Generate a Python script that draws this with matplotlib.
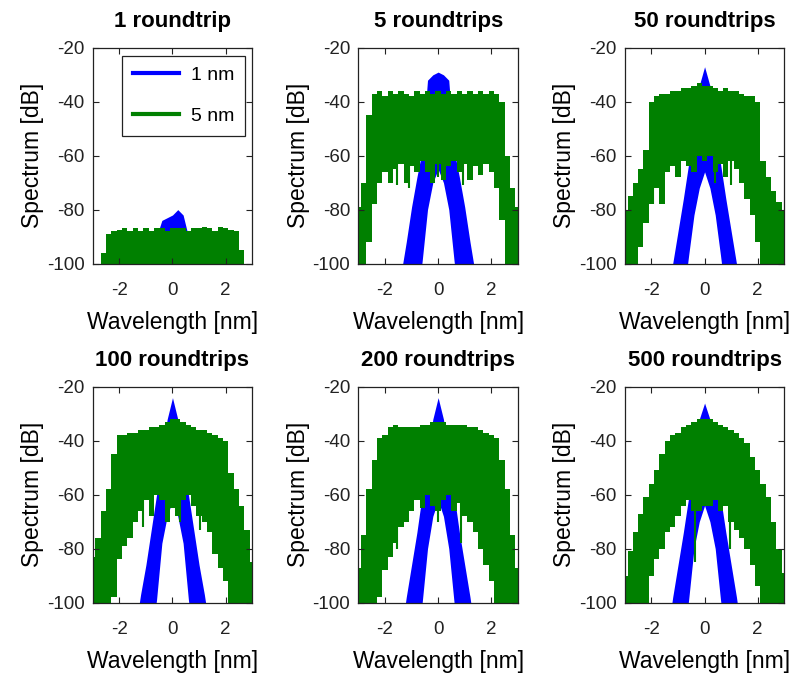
import numpy as np
import matplotlib
matplotlib.use('Agg')
import matplotlib.pyplot as plt
from matplotlib.lines import Line2D

plt.rcParams['font.family'] = ['Liberation Sans', 'DejaVu Sans']
plt.rcParams['axes.unicode_minus'] = False

titles = ['1 roundtrip', '5 roundtrips', '50 roundtrips',
          '100 roundtrips', '200 roundtrips', '500 roundtrips']
series = ['1 nm', '5 nm']

#wavelength grids [nm]
wl_green = np.round(np.arange(-3.0, 3.01, 0.2), 1)
wl_blue = np.round(np.arange(-1.6, 1.61, 0.2), 1)

#5 nm filter: upper / lower envelope of the spectrum [dB]
g_hi_1 = [-110,-110,-96,-89,-88,-87.5,-87,-88,-87,-88,-87,-88,-87,-87,-88,-87,
          -87,-87,-88,-87,-87,-86.5,-87,-88,-86.5,-87,-87.5,-88,-95,-110,-110]
g_lo_1 = [-110]*31
g_hi_2 = [-79,-70,-45,-37,-36,-38,-36,-37,-36,-37,-38,-36,-37,-36,-37,-36,
          -37,-36,-37,-36,-37,-36,-37,-36,-37,-36,-37,-40,-60,-72,-79]
g_lo_2 = [-110,-110,-92,-78,-70,-66,-70,-65,-63,-70,-64,-66,-62,-66,-70,-63,
          -69,-64,-62,-66,-63,-69,-64,-67,-63,-66,-72,-84,-110,-110,-110]
g_hi_3 = [-80,-75,-70,-65,-58,-40,-38,-37,-37,-36,-36,-35,-35,-34,-33,-34,
          -34,-35,-36,-35,-36,-36,-37,-38,-38,-40,-62,-68,-73,-77,-80]
g_lo_3 = [-110,-110,-110,-94,-85,-78,-72,-78,-66,-64,-68,-62,-64,-66,-60,-62,
          -60,-66,-63,-68,-62,-65,-70,-76,-82,-92,-110,-110,-110,-110,-110]
g_hi_4 = [-83,-76,-66,-58,-45,-38,-38,-37,-37,-36,-36,-35,-35,-34,-33,-32,
          -32,-33,-34,-35,-36,-36,-37,-38,-39,-40,-52,-58,-64,-73,-85]
g_lo_4 = [-110,-110,-110,-110,-98,-84,-79,-76,-70,-66,-62,-68,-60,-62,-70,-65,
          -68,-62,-60,-64,-68,-70,-74,-82,-87,-92,-110,-110,-110,-110,-110]
g_hi_5 = [-87,-75,-58,-47,-39,-38,-35,-34,-35,-35,-35,-35,-34,-34,-33,-33,
          -33,-34,-34,-34,-34,-35,-35,-36,-37,-38,-39,-47,-58,-75,-87]
g_lo_5 = [-110,-110,-110,-110,-98,-88,-83,-78,-72,-70,-66,-62,-65,-60,-64,-66,
          -62,-60,-66,-63,-68,-70,-74,-80,-86,-92,-110,-110,-110,-110,-110]
g_hi_6 = [-90,-81,-74,-67,-61,-56,-51,-45,-40,-38,-37,-35,-34,-33,-32,-32,
          -32,-33,-34,-35,-36,-37,-39,-41,-46,-51,-56,-61,-70,-80,-89]
g_lo_6 = [-110,-110,-110,-110,-100,-90,-84,-80,-74,-72,-68,-64,-62,-66,-66,-64,
          -64,-62,-66,-64,-70,-73,-76,-80,-86,-94,-110,-110,-110,-110,-110]

#narrow dips in the 5 nm spectrum
dip_x = [[], [-1.55,-1.1,0.0,0.95], [-1.96,-1.65,0.4,1.0],
         [-1.6,-1.1,0.3,1.05], [-1.55,0.0,0.85], [-0.36,0.95]]
dip_y = [[], [-71,-72,-68,-71], [-78,-78,-70,-71],
         [-76,-72,-70,-73], [-80,-70,-78], [-85,-80]]

#1 nm filter: upper / lower envelope [dB]
b_hi_1 = [-120,-120,-120,-120,-120,-90,-84,-83,-82,-80,-82,-90,-120,-120,-120,-120,-120]
b_lo_1 = [-120]*17
b_hi_2 = [-118,-104,-92,-79,-68,-58,-32,-30,-29,-30,-32,-58,-68,-79,-92,-104,-118]
b_lo_2 = [-120,-120,-120,-120,-116,-99,-80,-70,-65,-70,-80,-99,-116,-120,-120,-120,-120]
b_hi_3 = [-120,-112,-100,-88,-76,-63,-50,-34,-27,-34,-50,-63,-76,-88,-100,-112,-120]
b_lo_3 = [-120,-120,-120,-120,-113,-97,-82,-72,-66,-72,-82,-97,-113,-120,-120,-120,-120]
b_hi_4 = [-120,-110,-97,-86,-73,-60,-45,-32,-24,-32,-45,-60,-73,-86,-97,-110,-120]
b_lo_4 = [-120,-120,-120,-120,-114,-99,-78,-68,-62,-68,-78,-99,-114,-120,-120,-120,-120]
b_hi_5 = [-120,-112,-98,-86,-74,-60,-46,-32,-24,-32,-46,-60,-74,-86,-98,-112,-120]
b_lo_5 = [-120,-120,-120,-120,-116,-100,-80,-68,-62,-68,-80,-100,-116,-120,-120,-120,-120]
b_hi_6 = [-120,-112,-98,-86,-74,-61,-46,-32,-26,-32,-46,-61,-74,-86,-98,-112,-120]
b_lo_6 = [-120,-120,-120,-120,-115,-99,-80,-70,-64,-70,-80,-99,-115,-120,-120,-120,-120]

g_hi = [g_hi_1, g_hi_2, g_hi_3, g_hi_4, g_hi_5, g_hi_6]
g_lo = [g_lo_1, g_lo_2, g_lo_3, g_lo_4, g_lo_5, g_lo_6]
b_hi = [b_hi_1, b_hi_2, b_hi_3, b_hi_4, b_hi_5, b_hi_6]
b_lo = [b_lo_1, b_lo_2, b_lo_3, b_lo_4, b_lo_5, b_lo_6]

c_blue = (0, 0, 1)
c_green = (0, 0.5, 0)

fig = plt.figure(figsize=(7.93, 6.74), dpi=100)
lefts = [0.117, 0.452, 0.788]
bottoms = [0.609, 0.106]
w, h = 0.201, 0.320

for i in range(6):
 ax = fig.add_axes([lefts[i % 3], bottoms[i // 3], w, h])
 ax.fill_between(wl_blue, b_lo[i], b_hi[i], color=c_blue, lw=0)
 ax.fill_between(wl_green, g_lo[i], g_hi[i], step='mid', color=c_green, lw=0)
 if len(dip_x[i]) > 0:
  ax.vlines(dip_x[i], dip_y[i], -58, color=c_green, lw=1.5)
 ax.set_xlim(-3, 3)
 ax.set_ylim(-100, -20)
 ax.set_xticks([-2, 0, 2])
 ax.set_yticks([-100, -80, -60, -40, -20])
 ax.tick_params(direction='in', top=True, right=True, length=4, width=0.8,
                labelsize=13.5, colors='#222222')
 ax.tick_params(axis='x', pad=13)
 ax.tick_params(axis='y', pad=6)
 for s in ax.spines.values():
  s.set_linewidth(0.9)
  s.set_color('#222222')
 ax.set_title(titles[i], fontsize=16, fontweight='bold', pad=15)
 ax.set_xlabel('Wavelength [nm]', fontsize=16.5, labelpad=9)
 ax.set_ylabel('Spectrum [dB]', fontsize=16.5, labelpad=2)
 if i == 0:
  handles = [Line2D([], [], color=c_blue, lw=3), Line2D([], [], color=c_green, lw=3)]
  leg = ax.legend(handles, series, loc='upper right', bbox_to_anchor=(0.956, 0.963),
                  borderaxespad=0, fontsize=14, fancybox=False, framealpha=1,
                  edgecolor='#222222', handlelength=2.4, labelspacing=1.2,
                  borderpad=0.55, handletextpad=0.6)
  leg.get_frame().set_linewidth(0.9)

fig.savefig('out.png', dpi=100)
